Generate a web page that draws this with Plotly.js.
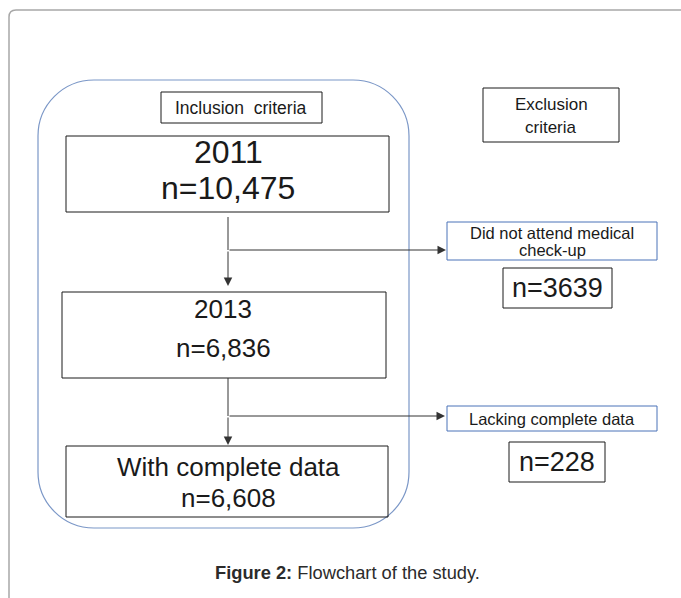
<!DOCTYPE html>
<html>
<head>
<meta charset="utf-8">
<script src="https://cdn.plot.ly/plotly-3.0.1.min.js"></script>
<style>html,body{margin:0;padding:0;background:#fff;}#chart{width:681px;height:598px;}</style>
</head>
<body>
<div id="chart"></div>
<script>
// ---- chart content (data) ----
const headers = ["Inclusion  criteria", "Exclusion", "criteria"];
const stageYears = ["2011", "2013", "With complete data"];
const stageCounts = ["n=10,475", "n=6,836", "n=6,608"];
const exclusionReasonLines = [["Did not attend medical", "check-up"], ["Lacking complete data"]];
const exclusionCounts = ["n=3639", "n=228"];
const captionBold = "Figure 2:";
const captionText = " Flowchart of the study.";

// ---- layout geometry (pixel-like data coordinates) ----
const FONT = "Liberation Sans, Arial, sans-serif";
const BLACK = "#1a1a1a";
const BLUE = "#4a72b8";
const stageBoxes = [
  {x0: 66, x1: 389, y0: 136, y1: 212, ty: [152, 188], fs: [32, 32], cx: 228},
  {x0: 62, x1: 386, y0: 292, y1: 378, ty: [309, 348], fs: [26, 26], cx: 223},
  {x0: 66, x1: 388, y0: 446, y1: 517, ty: [467, 498], fs: [26, 26], cx: 228}
];
const reasonBoxes = [
  {x0: 447, x1: 657, y0: 222, y1: 260, ty: [233, 250], fs: 16.5},
  {x0: 447, x1: 657, y0: 406, y1: 431, ty: [419], fs: 16.5}
];
const countBoxes = [
  {x0: 503, x1: 612, y0: 268, y1: 308, ty: 288, fs: 27},
  {x0: 509, x1: 605, y0: 442, y1: 482, ty: 462, fs: 27}
];

function roundRect(x0, y0, x1, y1, r) {
  const k = 0.5523 * r;
  return `M ${x0 + r},${y0} L ${x1 - r},${y0} C ${x1 - r + k},${y0} ${x1},${y0 + r - k} ${x1},${y0 + r} ` +
    `L ${x1},${y1 - r} C ${x1},${y1 - r + k} ${x1 - r + k},${y1} ${x1 - r},${y1} ` +
    `L ${x0 + r},${y1} C ${x0 + r - k},${y1} ${x0},${y1 - r + k} ${x0},${y1 - r} ` +
    `L ${x0},${y0 + r} C ${x0},${y0 + r - k} ${x0 + r - k},${y0} ${x0 + r},${y0} Z`;
}

const shapes = [];
const annotations = [];

// outer page frame
shapes.push({type: "path", xref: "x", yref: "y", path: "M 9,640 L 9,17 Q 9,10 16,10 L 720,10",
  line: {color: "#a8a8a8", width: 1.5}});
// inclusion rounded container
shapes.push({type: "path", xref: "x", yref: "y", path: roundRect(38, 80, 409, 528, 56),
  line: {color: "#7b97c7", width: 1.2}});

function rect(b, color) {
  shapes.push({type: "rect", xref: "x", yref: "y", x0: b.x0, x1: b.x1, y0: b.y0, y1: b.y1,
    line: {color: color, width: 1}, fillcolor: "rgba(0,0,0,0)"});
}
function text(t, x, y, size, color, extra) {
  annotations.push(Object.assign({x: x, y: y, xref: "x", yref: "y", text: t, showarrow: false,
    xanchor: "center", yanchor: "middle", font: {family: FONT, size: size, color: color || BLACK}}, extra || {}));
}
function arrow(x0, y0, x1, y1) {
  annotations.push({x: x1, y: y1, ax: x0, ay: y0, xref: "x", yref: "y", axref: "x", ayref: "y",
    text: "", showarrow: true, arrowhead: 2, arrowsize: 1.7, arrowwidth: 1, arrowcolor: "#333", standoff: 0});
}

// headers
rect({x0: 161, x1: 322, y0: 92, y1: 123}, BLACK);
text(headers[0], 241, 107.5, 17.5);
rect({x0: 483, x1: 619, y0: 88, y1: 142}, BLACK);
text(headers[1], 551, 104, 17);
text(headers[2], 551, 127, 17);

// stage boxes
stageBoxes.forEach((b, i) => {
  rect(b, BLACK);
  text(stageYears[i], b.cx, b.ty[0], b.fs[0]);
  text(stageCounts[i], b.cx, b.ty[1], b.fs[1]);
});

// exclusion reasons
reasonBoxes.forEach((b, i) => {
  rect(b, BLUE);
  exclusionReasonLines[i].forEach((ln, j) => text(ln, (b.x0 + b.x1) / 2, b.ty[j], b.fs));
});
countBoxes.forEach((b, i) => {
  rect(b, BLACK);
  text(exclusionCounts[i], (b.x0 + b.x1) / 2, b.ty, b.fs);
});

// connectors
shapes.push({type: "line", xref: "x", yref: "y", x0: 228, x1: 228, y0: 217, y1: 250, line: {color: "#333", width: 1}});
arrow(228, 250, 228, 286);
arrow(228, 250, 446, 250);
shapes.push({type: "line", xref: "x", yref: "y", x0: 228, x1: 228, y0: 378, y1: 416, line: {color: "#333", width: 1}});
arrow(228, 416, 228, 445);
arrow(228, 416, 445, 416);

// caption
text("<b>" + captionBold + "</b>" + captionText, 347, 572, 18.3, "#2b2b2b");

const layout = {
  width: 681, height: 598,
  margin: {l: 0, r: 0, t: 0, b: 0},
  paper_bgcolor: "#fff", plot_bgcolor: "#fff",
  showlegend: false,
  xaxis: {range: [0, 681], visible: false, fixedrange: true},
  yaxis: {range: [598, 0], visible: false, fixedrange: true},
  shapes: shapes,
  annotations: annotations
};

Plotly.newPlot("chart", [{x: [], y: [], type: "scatter", mode: "markers", hoverinfo: "skip"}], layout,
  {displayModeBar: false, staticPlot: true});
</script>
</body>
</html>
